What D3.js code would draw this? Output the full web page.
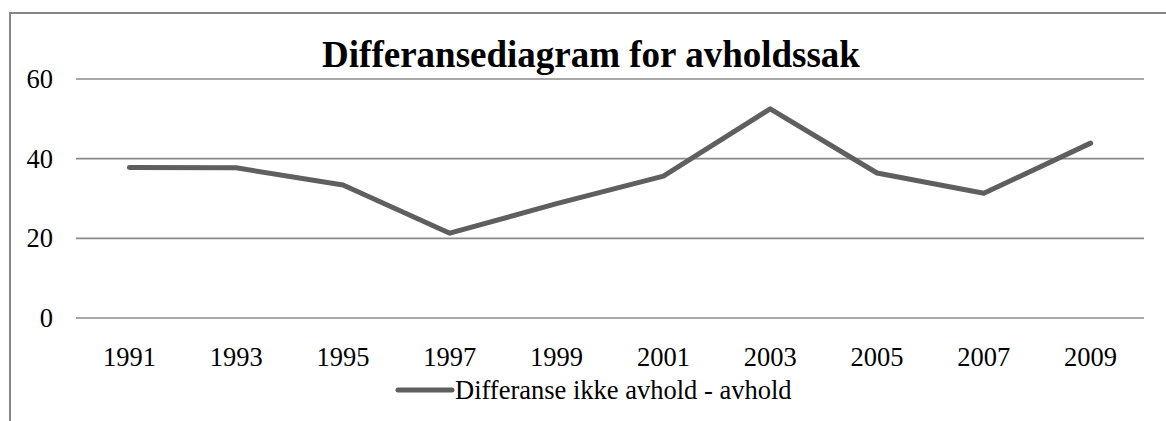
<!DOCTYPE html>
<html>
<head>
<meta charset="utf-8">
<script src="https://cdn.jsdelivr.net/npm/d3@7"></script>
<style>
  body { margin: 0; background: #fff; }
  svg { display: block; }
  .tick-label { font-family: "Liberation Serif", "Times New Roman", serif; font-size: 26.5px; fill: #000; }
  .title { font-family: "Liberation Serif", "Times New Roman", serif; font-size: 37px; font-weight: bold; fill: #000; }
</style>
</head>
<body>
<div id="chart"></div>
<script>
const years = ['1991', '1993', '1995', '1997', '1999', '2001', '2003', '2005', '2007', '2009'];
const diffValues = [37.8, 37.7, 33.4, 21.3, 28.7, 35.6, 52.5, 36.4, 31.3, 43.9];
const yTicks = [0, 20, 40, 60];
const seriesName = 'Differanse ikke avhold - avhold';
const titleText = 'Differansediagram for avholdssak';

const width = 1166;
const height = 421;
const plot = { left: 76, right: 1144, top: 79, bottom: 318 };

const svg = d3.select('#chart').append('svg')
  .attr('width', width)
  .attr('height', height);

// outer chart border (right/bottom run off the canvas like the original)
svg.append('rect')
  .attr('x', 10).attr('y', 13)
  .attr('width', 1200).attr('height', 450)
  .attr('fill', 'none')
  .attr('stroke', '#868686')
  .attr('stroke-width', 2);

const x = d3.scaleBand().domain(years).range([plot.left, plot.right]);
const y = d3.scaleLinear().domain([0, 60]).range([plot.bottom, plot.top]);

// gridlines
svg.append('g').selectAll('line')
  .data(yTicks).enter().append('line')
  .attr('x1', plot.left).attr('x2', plot.right)
  .attr('y1', d => y(d)).attr('y2', d => y(d))
  .attr('stroke', '#8a8a8a')
  .attr('stroke-width', 1.6);

// y labels
svg.append('g').selectAll('text')
  .data(yTicks).enter().append('text')
  .attr('class', 'tick-label')
  .attr('x', 53)
  .attr('y', d => y(d) + 9)
  .attr('text-anchor', 'end')
  .text(d => d);

// x labels
svg.append('g').selectAll('text')
  .data(years).enter().append('text')
  .attr('class', 'tick-label')
  .attr('x', d => x(d) + x.bandwidth() / 2)
  .attr('y', 366)
  .attr('text-anchor', 'middle')
  .text(d => d);

// title
svg.append('text')
  .attr('class', 'title')
  .attr('x', 591)
  .attr('y', 67)
  .attr('text-anchor', 'middle')
  .text(titleText);

// series line
const line = d3.line()
  .x((d, i) => x(years[i]) + x.bandwidth() / 2)
  .y(d => y(d));

svg.append('path')
  .datum(diffValues)
  .attr('d', line)
  .attr('fill', 'none')
  .attr('stroke', '#5f5f5f')
  .attr('stroke-width', 5)
  .attr('stroke-linejoin', 'round')
  .attr('stroke-linecap', 'round');

// legend
const legend = svg.append('g').attr('transform', 'translate(398, 390)');
legend.append('line')
  .attr('x1', 0).attr('x2', 54)
  .attr('y1', 0).attr('y2', 0)
  .attr('stroke', '#5f5f5f')
  .attr('stroke-width', 5)
  .attr('stroke-linecap', 'round');
legend.append('text')
  .attr('class', 'tick-label')
  .attr('x', 57)
  .attr('y', 9)
  .text(seriesName);
</script>
</body>
</html>
